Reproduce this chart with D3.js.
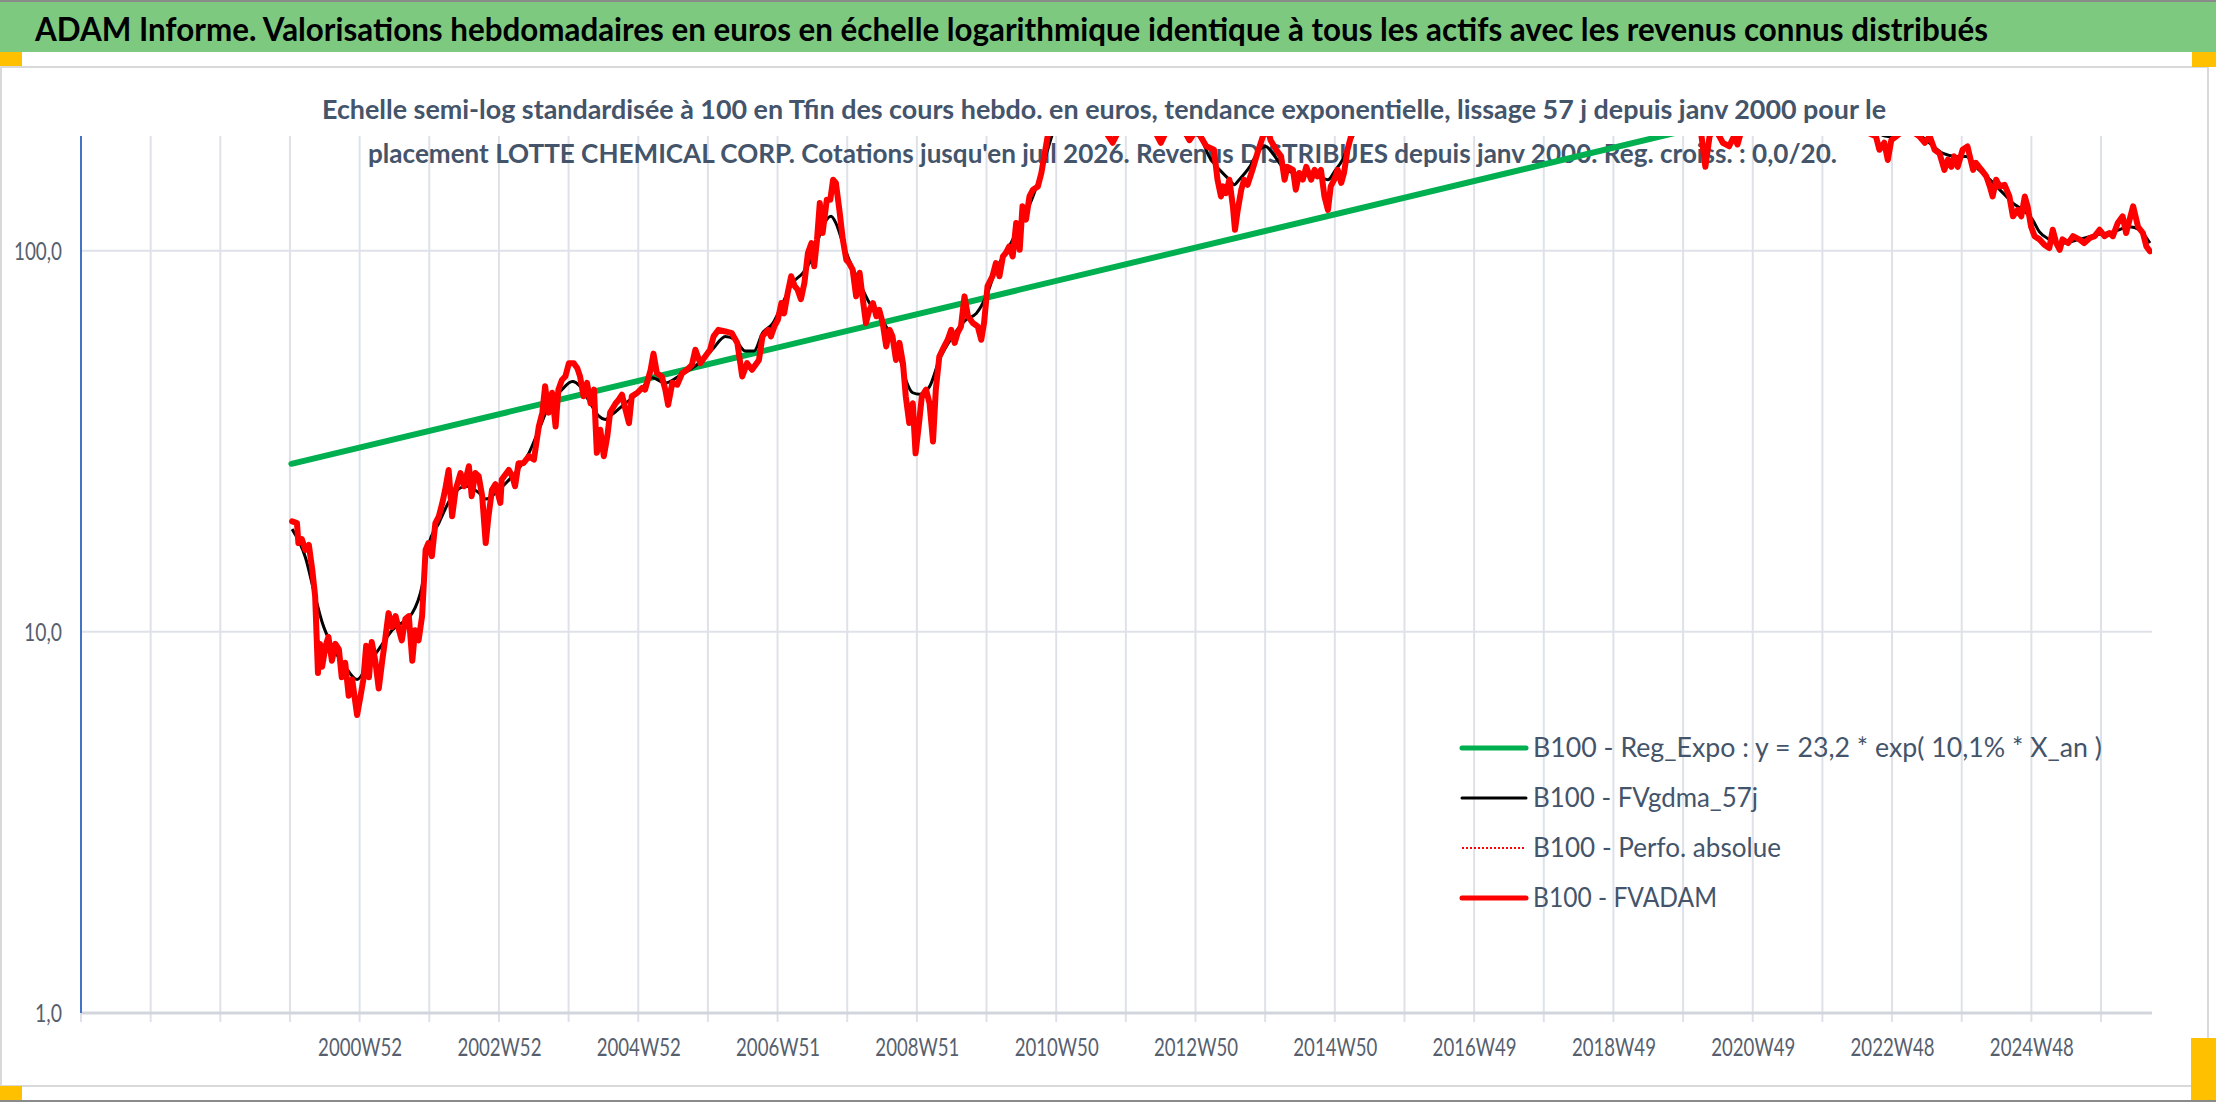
<!DOCTYPE html>
<html>
<head>
<meta charset="utf-8">
<script src="https://cdn.jsdelivr.net/npm/d3@7"></script>
<style>
  body { margin: 0; background: #fff; overflow: hidden; }
  text { font-family: Lato, "Open Sans", sans-serif; }
</style>
</head>
<body>
<svg></svg>
<script>
const w = 2216;
const h = 1102;

// Data (decimal years / base 100 values)
const redDates = [
  2000.01, 2000.08, 2000.10, 2000.15, 2000.20, 2000.25, 2000.30, 2000.34, 2000.38, 2000.41,
  2000.44, 2000.49, 2000.53, 2000.58, 2000.63, 2000.68, 2000.72, 2000.77, 2000.82, 2000.87,
  2000.94, 2000.99, 2001.03, 2001.07, 2001.11, 2001.15, 2001.20, 2001.25, 2001.30, 2001.34,
  2001.39, 2001.44, 2001.49, 2001.54, 2001.58, 2001.63, 2001.68, 2001.73, 2001.77, 2001.82,
  2001.87, 2001.92, 2001.96, 2002.01, 2002.06, 2002.11, 2002.16, 2002.20, 2002.25, 2002.30,
  2002.35, 2002.42, 2002.47, 2002.54, 2002.58, 2002.63, 2002.68, 2002.73, 2002.78, 2002.82,
  2002.87, 2002.92, 2002.99, 2003.01, 2003.11, 2003.16, 2003.20, 2003.25, 2003.32, 2003.40,
  2003.47, 2003.54, 2003.59, 2003.63, 2003.68, 2003.73, 2003.78, 2003.82, 2003.87, 2003.92,
  2003.97, 2004.04, 2004.09, 2004.13, 2004.18, 2004.23, 2004.28, 2004.33, 2004.37, 2004.42,
  2004.47, 2004.52, 2004.56, 2004.64, 2004.68, 2004.73, 2004.78, 2004.83, 2004.87, 2004.95,
  2005.02, 2005.06, 2005.14, 2005.18, 2005.23, 2005.30, 2005.35, 2005.39, 2005.45, 2005.52,
  2005.59, 2005.66, 2005.73, 2005.78, 2005.85, 2005.92, 2005.99, 2006.04, 2006.11, 2006.21,
  2006.30, 2006.38, 2006.45, 2006.52, 2006.59, 2006.69, 2006.74, 2006.82, 2006.86, 2006.91,
  2006.96, 2007.01, 2007.05, 2007.10, 2007.15, 2007.20, 2007.24, 2007.29, 2007.34, 2007.39,
  2007.44, 2007.48, 2007.52, 2007.56, 2007.60, 2007.66, 2007.71, 2007.75, 2007.79, 2007.84,
  2007.89, 2007.94, 2007.98, 2008.03, 2008.08, 2008.13, 2008.17, 2008.22, 2008.27, 2008.32,
  2008.37, 2008.41, 2008.46, 2008.51, 2008.56, 2008.60, 2008.65, 2008.70, 2008.75, 2008.79,
  2008.84, 2008.89, 2008.93, 2008.98, 2009.02, 2009.08, 2009.13, 2009.18, 2009.22, 2009.27,
  2009.34, 2009.39, 2009.44, 2009.49, 2009.53, 2009.58, 2009.63, 2009.68, 2009.75, 2009.82,
  2009.87, 2009.91, 2009.96, 2010.03, 2010.08, 2010.13, 2010.18, 2010.22, 2010.27, 2010.32,
  2010.37, 2010.42, 2010.46, 2010.51, 2010.56, 2010.61, 2010.68, 2010.73, 2010.77, 2010.82,
  2010.90, 2011.10, 2011.35, 2011.60, 2011.75, 2011.90, 2012.10, 2012.30, 2012.44, 2012.60,
  2012.75, 2012.85, 2012.95, 2013.09, 2013.20, 2013.25, 2013.30, 2013.33, 2013.37, 2013.42,
  2013.47, 2013.50, 2013.54, 2013.59, 2013.63, 2013.68, 2013.75, 2013.82, 2013.90, 2013.97,
  2014.01, 2014.09, 2014.16, 2014.21, 2014.25, 2014.33, 2014.37, 2014.42, 2014.47, 2014.52,
  2014.59, 2014.64, 2014.68, 2014.73, 2014.78, 2014.83, 2014.87, 2014.92, 2014.97, 2015.02,
  2015.06, 2015.11, 2015.16, 2015.30, 2015.70, 2016.20, 2016.80, 2017.40, 2017.90, 2018.40,
  2018.90, 2019.40, 2019.90, 2020.17, 2020.23, 2020.29, 2020.36, 2020.43, 2020.48, 2020.57,
  2020.64, 2020.69, 2020.74, 2021.00, 2021.40, 2021.90, 2022.30, 2022.55, 2022.58, 2022.67,
  2022.72, 2022.79, 2022.84, 2022.89, 2022.96, 2023.01, 2023.10, 2023.20, 2023.29, 2023.37,
  2023.44, 2023.51, 2023.58, 2023.65, 2023.70, 2023.75, 2023.79, 2023.84, 2023.91, 2023.98,
  2024.06, 2024.10, 2024.18, 2024.25, 2024.30, 2024.34, 2024.39, 2024.44, 2024.51, 2024.58,
  2024.63, 2024.70, 2024.75, 2024.80, 2024.84, 2024.89, 2024.94, 2025.01, 2025.08, 2025.15,
  2025.20, 2025.25, 2025.30, 2025.34, 2025.42, 2025.49, 2025.58, 2025.65, 2025.73, 2025.80,
  2025.87, 2025.94, 2026.01, 2026.06, 2026.13, 2026.20, 2026.25, 2026.30, 2026.35, 2026.42,
  2026.49, 2026.54, 2026.59
];
const redValues = [
  19.5, 19.3, 17.1, 17.5, 16.4, 16.9, 14.5, 12.4, 7.8, 9.3,
  8.1, 9.2, 9.7, 8.4, 9.3, 9.0, 7.6, 8.3, 6.8, 7.5,
  6.05, 6.8, 7.5, 9.2, 7.6, 9.4, 8.4, 7.1, 8.4, 9.5,
  11.2, 10.3, 11.0, 10.1, 9.5, 10.8, 11.0, 8.4, 10.1, 9.5,
  11.0, 16.4, 17.1, 15.8, 19.3, 20.1, 21.8, 23.6, 26.6, 20.1,
  23.6, 26.1, 24.1, 27.2, 22.7, 26.1, 25.6, 22.7, 17.1, 20.1,
  23.6, 24.4, 21.8, 25.1, 26.6, 25.6, 24.1, 27.7, 27.7, 28.9,
  28.3, 34.6, 37.6, 44.1, 37.6, 42.4, 34.6, 43.2, 45.8, 46.8,
  50.7, 50.7, 49.2, 46.8, 41.5, 45.0, 39.8, 43.2, 29.5, 33.9,
  28.9, 32.6, 37.6, 39.8, 40.6, 41.9, 38.3, 35.3, 41.5, 42.4,
  43.7, 43.2, 48.7, 53.7, 47.7, 46.8, 43.2, 39.4, 45.0, 44.5,
  47.7, 48.7, 50.2, 55.0, 50.7, 52.8, 55.0, 59.6, 62.0, 61.4,
  60.8, 57.3, 46.8, 50.7, 48.7, 51.7, 59.6, 62.0, 59.6, 63.3,
  65.9, 72.9, 68.5, 77.4, 85.7, 80.8, 79.2, 74.6, 82.3, 98.6,
  104.7, 91.0, 106.8, 133.4, 111.3, 136, 136, 153.6, 150.6, 128,
  106.8, 94.6, 92.8, 89.2, 75.9, 87.5, 75.9, 64.6, 70.0, 72.9,
  67.3, 70.0, 64.6, 56.1, 62.0, 59.6, 51.7, 57.3, 50.7, 41.5,
  35.3, 39.8, 29.4, 35.3, 41.5, 43.2, 39.8, 31.6, 43.2, 52.8,
  56.1, 58.4, 62.0, 57.3, 60.8, 63.3, 75.9, 67.3, 64.6, 63.3,
  58.4, 64.6, 80.8, 85.7, 92.8, 85.7, 96.6, 98.6, 102.6, 96.6,
  118.2, 100.6, 130.8, 120.7, 138.8, 144.6, 147.5, 160, 176.8, 199.6,
  225, 250, 235, 212, 192, 218, 240, 215, 192, 222,
  210, 195, 208, 188, 184, 153.6, 138.8, 147.5, 141.6, 153.6,
  130.8, 113.5, 128, 144.6, 153.6, 149, 163, 180, 199.6, 208,
  195, 184, 176.8, 153.6, 166, 163, 144.6, 160, 153.6, 166,
  153.6, 163, 156.7, 163, 138.8, 128, 147.5, 153.6, 163, 150.6,
  160, 184, 199.6, 235, 290, 330, 390, 460, 430, 360,
  300, 260, 225, 203, 166, 199.6, 210, 199.6, 192, 188,
  199.6, 190, 205, 240, 280, 250, 225, 205, 203, 199.6,
  184, 192, 173, 195, 199.6, 203, 215, 205, 199.6, 192,
  199.6, 184, 180, 163, 173.4, 166, 176.8, 166, 184, 187.8,
  163, 170, 163, 156.7, 147.5, 138.8, 153.6, 147.5, 149, 138.8,
  123.1, 128, 123.1, 138.8, 130.8, 115.6, 109.2, 107.1, 103.7, 101.6,
  113.5, 104.7, 100.6, 107.1, 104.7, 109.2, 107.1, 104.7, 108, 109.2,
  113.5, 109.2, 111.3, 109.2, 118.2, 123.1, 111.3, 120.7, 130.8, 115.6,
  111.3, 102.6, 99.7
];

const blackDates = [
  2000.01, 2000.20, 2000.34, 2000.44, 2000.58, 2000.77, 2000.94, 2001.11, 2001.25, 2001.44,
  2001.73, 2001.87, 2001.96, 2002.11, 2002.30, 2002.49, 2002.68, 2002.78, 2002.97, 2003.16,
  2003.40, 2003.54, 2003.68, 2003.87, 2004.02, 2004.13, 2004.25, 2004.40, 2004.49, 2004.59,
  2004.78, 2004.97, 2005.16, 2005.35, 2005.54, 2005.83, 2006.02, 2006.21, 2006.35, 2006.49,
  2006.62, 2006.74, 2006.89, 2007.03, 2007.17, 2007.32, 2007.46, 2007.60, 2007.72, 2007.79,
  2007.89, 2007.98, 2008.13, 2008.27, 2008.41, 2008.56, 2008.70, 2008.79, 2008.89, 2008.99,
  2009.13, 2009.27, 2009.46, 2009.65, 2009.80, 2009.94, 2010.08, 2010.27, 2010.46, 2010.61,
  2010.75, 2010.82, 2010.95, 2011.30, 2011.80, 2012.30, 2012.80, 2012.99, 2013.13, 2013.28,
  2013.42, 2013.49, 2013.56, 2013.71, 2013.85, 2013.94, 2014.04, 2014.18, 2014.33, 2014.52,
  2014.71, 2014.83, 2014.94, 2015.04, 2015.14, 2015.25, 2016.00, 2017.40, 2018.50, 2019.50,
  2020.30, 2021.00, 2022.00, 2022.60, 2022.80, 2022.95, 2023.10, 2023.25, 2023.39, 2023.63,
  2023.82, 2023.96, 2024.10, 2024.30, 2024.49, 2024.63, 2024.77, 2024.91, 2025.01, 2025.15,
  2025.34, 2025.58, 2025.82, 2026.06, 2026.30, 2026.44, 2026.59
];
const blackValues = [
  18.6, 15.7, 12.4, 10.6, 9.2, 8.1, 7.5, 8.3, 9.0, 10.1,
  11.2, 13.2, 16.8, 19.3, 22.7, 24.1, 23.2, 22.3, 23.6, 25.6,
  29.5, 33.9, 39.0, 43.2, 45.4, 44.1, 40.6, 36.8, 36.1, 37.2,
  39.8, 42.4, 46.4, 45.0, 46.8, 50.7, 55.0, 59.6, 58.4, 54.6,
  54.6, 60.8, 64.6, 72.9, 82.3, 87.5, 96.6, 115.6, 123.1, 118.2,
  104.7, 94.6, 82.3, 72.9, 67.3, 60.8, 52.8, 45.9, 42.4, 42.0,
  44.0, 51.7, 59.6, 65.9, 68.5, 75.9, 89.2, 102.6, 120.7, 138.8,
  166, 184, 215, 235, 215, 220, 205, 199.6, 176.8, 163,
  153.6, 149, 153.6, 166, 184, 187.8, 180, 166, 160, 158,
  156.7, 153.6, 163, 173.4, 192, 210, 310, 430, 350, 260,
  215, 230, 235, 210, 200, 199, 210, 204, 195, 180,
  176.8, 176.8, 166, 153.6, 141.6, 133.4, 128, 120.7, 112, 107.1,
  104.7, 107.1, 110, 112, 115.6, 113.5, 104.7
];

const greenDates = [2000.0, 2026.6];
const greenValues = [27.6, 405];

const xTickLabels = ["2000W52", "2002W52", "2004W52", "2006W51", "2008W51", "2010W50", "2012W50",
  "2014W50", "2016W49", "2018W49", "2020W49", "2022W48", "2024W48"];
const yTicks = [1, 10, 100];
const yTickLabels = ["1,0", "10,0", "100,0"];

const legendLabels = [
  "B100 - Reg_Expo : y = 23,2 * exp( 10,1% *  X_an )",
  "B100 - FVgdma_57j",
  "B100 - Perfo. absolue",
  "B100 - FVADAM"
];

const titleText = "ADAM Informe. Valorisations hebdomadaires en euros en échelle logarithmique identique à tous les actifs avec les revenus connus distribués";
const subtitleLines = [
  "Echelle semi-log standardisée à 100 en Tfin des cours hebdo. en euros, tendance exponentielle, lissage 57 j depuis janv 2000 pour le",
  "placement LOTTE CHEMICAL CORP. Cotations jusqu'en juil 2026. Revenus DISTRIBUES depuis janv 2000. Reg. croiss. : 0,0/20."
];

// Layout
const plot = { left: 81, right: 2152, top: 136, bottom: 1013 };
const gridColor = "#DEE2E8";
const labelColor = "#56606E";
const slate = "#44546A";

const svg = d3.select("svg")
    .attr("width", w)
    .attr("height", h);

svg.append("rect").attr("width", w).attr("height", h).attr("fill", "#fff");

// Header band and sheet frame
svg.append("rect").attr("x", 0).attr("y", 0).attr("width", w).attr("height", 52).attr("fill", "#7EC980");
svg.append("rect").attr("x", 0).attr("y", 0).attr("width", w).attr("height", 2).attr("fill", "#8A8A8A");
svg.append("rect").attr("x", 0).attr("y", 1100).attr("width", w).attr("height", 2).attr("fill", "#8A8A8A");
svg.append("rect")
    .attr("x", 1).attr("y", 67).attr("width", 2207).attr("height", 1019)
    .attr("fill", "none").attr("stroke", "#D9D9D9").attr("stroke-width", 2);
[[0, 52, 22, 14], [2192, 52, 24, 15], [0, 1086, 22, 14], [2191, 1038, 25, 62]].forEach(r => {
  svg.append("rect").attr("x", r[0]).attr("y", r[1]).attr("width", r[2]).attr("height", r[3]).attr("fill", "#FFC000");
});

svg.append("text")
    .attr("x", 35).attr("y", 41)
    .attr("font-size", 32).attr("font-weight", "bold").attr("fill", "#000")
    .attr("textLength", 1953).attr("lengthAdjust", "spacingAndGlyphs")
    .text(titleText);

// Scales
const x = d3.scaleLinear().domain([1996.99, 2026.62]).range([plot.left, plot.right]);
const y = d3.scaleLog().domain([1, 200]).range([plot.bottom, plot.top]);

// One gridline every 52 weeks, labels every 104 weeks
const gridDates = d3.range(30).map(k => 1996.99 + k * 364 / 365.25);
const labelDates = xTickLabels.map((d, i) => gridDates[4 + 2 * i]);

const grid = svg.append("g");
grid.selectAll(".vgrid")
    .data(gridDates.slice(1))
    .enter()
    .append("line")
    .attr("class", "vgrid")
    .attr("x1", d => x(d)).attr("x2", d => x(d))
    .attr("y1", plot.top).attr("y2", plot.bottom + 9)
    .attr("stroke", gridColor).attr("stroke-width", 2);
grid.append("line")
    .attr("x1", plot.left).attr("x2", plot.left)
    .attr("y1", plot.bottom).attr("y2", plot.bottom + 9)
    .attr("stroke", gridColor).attr("stroke-width", 2);
grid.selectAll(".hgrid")
    .data([10, 100])
    .enter()
    .append("line")
    .attr("class", "hgrid")
    .attr("x1", plot.left).attr("x2", plot.right)
    .attr("y1", d => y(d)).attr("y2", d => y(d))
    .attr("stroke", gridColor).attr("stroke-width", 2);
grid.append("line")
    .attr("x1", plot.left).attr("x2", plot.right)
    .attr("y1", y(1)).attr("y2", y(1))
    .attr("stroke", "#D2D6DC").attr("stroke-width", 3);
grid.append("line")
    .attr("x1", plot.left).attr("x2", plot.left)
    .attr("y1", plot.top).attr("y2", plot.bottom)
    .attr("stroke", "#4472C4").attr("stroke-width", 2);

// Axes labels
const xAxis = svg.append("g")
    .attr("transform", `translate(0,${plot.bottom})`)
    .call(d3.axisBottom(x).tickValues(labelDates).tickFormat((d, i) => xTickLabels[i]).tickSize(0));
xAxis.select(".domain").remove();
xAxis.selectAll("text")
    .attr("y", 43).attr("dy", null)
    .attr("font-size", 25).attr("fill", labelColor)
    .attr("textLength", 84).attr("lengthAdjust", "spacingAndGlyphs")
    .style("font-family", "Lato, 'Open Sans', sans-serif");

const yAxis = svg.append("g")
    .attr("transform", "translate(62,0)")
    .call(d3.axisLeft(y).tickValues(yTicks).tickFormat((d, i) => yTickLabels[i]).tickSize(0).tickPadding(0));
yAxis.select(".domain").remove();
yAxis.selectAll("text")
    .attr("dy", "0.35em")
    .attr("font-size", 25).attr("fill", labelColor)
    .attr("textLength", (d, i) => [27, 38, 48][i]).attr("lengthAdjust", "spacingAndGlyphs")
    .style("font-family", "Lato, 'Open Sans', sans-serif");

// Subtitle (lines are drawn over it)
svg.selectAll(".subtitle")
    .data(subtitleLines)
    .enter()
    .append("text")
    .attr("class", "subtitle")
    .attr("x", (d, i) => [322, 368][i])
    .attr("y", (d, i) => [119, 163][i])
    .attr("font-size", 26).attr("font-weight", "bold").attr("fill", slate)
    .attr("textLength", (d, i) => [1564, 1469][i]).attr("lengthAdjust", "spacingAndGlyphs")
    .text(d => d);

// Series
svg.append("clipPath").attr("id", "plotclip")
    .append("rect")
    .attr("x", plot.left).attr("y", plot.top)
    .attr("width", plot.right - plot.left).attr("height", plot.bottom - plot.top);

const lineShapeGenerator = d3.line()
    .x(d => x(d[0]))
    .y(d => y(d[1]));

const series = svg.append("g").attr("clip-path", "url(#plotclip)");

series.append("path")
    .datum(d3.zip(greenDates, greenValues))
    .attr("d", lineShapeGenerator)
    .attr("fill", "none").attr("stroke", "#00B050").attr("stroke-width", 6)
    .attr("stroke-linecap", "round");

series.append("path")
    .datum(d3.zip(blackDates, blackValues))
    .attr("d", lineShapeGenerator.curve(d3.curveMonotoneX))
    .attr("fill", "none").attr("stroke", "#000").attr("stroke-width", 3)
    .attr("stroke-linejoin", "round");

series.append("path")
    .datum(d3.zip(redDates, redValues))
    .attr("d", lineShapeGenerator.curve(d3.curveLinear))
    .attr("fill", "none").attr("stroke", "#FF0000").attr("stroke-width", 6)
    .attr("stroke-linejoin", "round").attr("stroke-linecap", "round");

// Legend
const legendStyles = [
  { color: "#00B050", width: 5, dash: null },
  { color: "#000000", width: 3, dash: null },
  { color: "#FF0000", width: 2, dash: "2,2" },
  { color: "#FF0000", width: 5, dash: null }
];
const legendWidths = [569, 225, 248, 184];

const legend = svg.append("g");
const items = legend.selectAll(".legend-item")
    .data(legendLabels)
    .enter()
    .append("g")
    .attr("class", "legend-item")
    .attr("transform", (d, i) => `translate(0,${748 + i * 50})`);

items.append("line")
    .attr("x1", 1462).attr("x2", 1526)
    .attr("stroke", (d, i) => legendStyles[i].color)
    .attr("stroke-width", (d, i) => legendStyles[i].width)
    .attr("stroke-dasharray", (d, i) => legendStyles[i].dash)
    .attr("stroke-linecap", (d, i) => legendStyles[i].dash ? "butt" : "round");

items.append("text")
    .attr("x", 1533).attr("y", 9)
    .attr("font-size", 26).attr("fill", slate)
    .attr("textLength", (d, i) => legendWidths[i]).attr("lengthAdjust", "spacingAndGlyphs")
    .text(d => d);
</script>
</body>
</html>
